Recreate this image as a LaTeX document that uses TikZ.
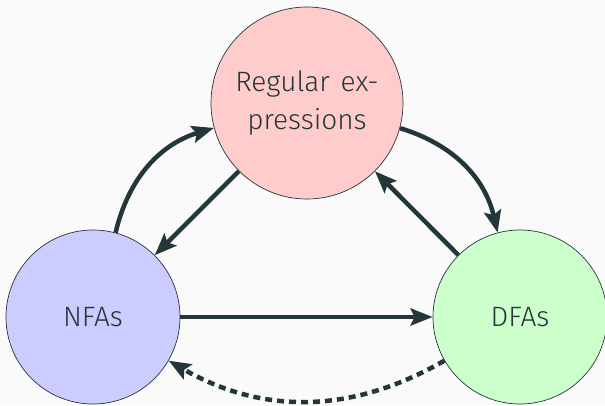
\documentclass[tikz,border=0pt]{standalone}
\usepackage{fontspec}
\setmainfont{Fira Sans Light}
\usetikzlibrary{arrows.meta}
\definecolor{mDark}{HTML}{23373B}
\definecolor{bgc}{HTML}{FAFAFA}
\begin{document}
\begin{tikzpicture}[x=1pt,y=1pt,
  state/.style={circle, draw=mDark, line width=0.7pt, text=mDark,
    font=\fontsize{28}{38}\selectfont, inner sep=0pt, align=center},
  conn/.style={draw=mDark, line width=4.5pt,
    -{Stealth[length=22pt,width=17pt,inset=4pt]}},
  dashconn/.style={conn, dash pattern=on 7pt off 5pt}]
\fill[bgc] (0,0) rectangle (605,405);
\useasboundingbox (0,0) rectangle (605,405);
\node[state, fill=red!20, minimum size=192pt] (re) at (307,302) {Regular\hspace{11pt}ex-\\pressions};
\node[state, fill=blue!20, minimum size=174pt] (nfa) at (93,88) {NFAs};
\node[state, fill=green!20, minimum size=174pt] (dfa) at (520,88) {DFAs};
\draw[conn] (nfa) to[bend left=30] (re);
\draw[conn] (re) -- (nfa);
\draw[conn] (re) to[bend left=30] (dfa);
\draw[conn] (dfa) -- (re);
\draw[conn] (nfa) -- (dfa);
\draw[dashconn] (dfa) to[bend left=30] (nfa);
\end{tikzpicture}
\end{document}
